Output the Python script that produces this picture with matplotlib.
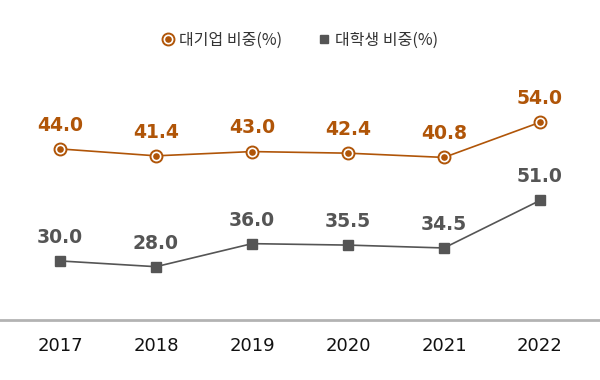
#!/usr/bin/env python3
"""
Share of large-company vs. college-graduate line chart
"""

import matplotlib
matplotlib.use('Agg')
import matplotlib.pyplot as plt
from matplotlib.lines import Line2D
from matplotlib.legend_handler import HandlerTuple

years = ['2017', '2018', '2019', '2020', '2021', '2022']
big_corp = [44.0, 41.4, 43.0, 42.4, 40.8, 54.0]
college = [30.0, 28.0, 36.0, 35.5, 34.5, 51.0]
names = ['대기업 비중(%)', '대학생 비중(%)']

ORANGE = '#b05508'
GRAY = '#555555'
KR = ['Noto Sans CJK KR', 'DejaVu Sans']


def main():
    fig = plt.figure(figsize=(6, 3.8), dpi=100)
    ax = fig.add_axes([0, 60 / 380, 1, 240 / 380])
    ax2 = ax.twinx()
    x = list(range(len(years)))

    # orange series
    ax.plot(x, big_corp, color=ORANGE, lw=1.2, zorder=2)
    ax.plot(x, big_corp, 'o', ms=9, color=ORANGE, zorder=3)
    ax.plot(x, big_corp, 'o', ms=6, mfc=ORANGE, mec='white', mew=1.2, zorder=4)
    for xi, v in zip(x, big_corp):
        ax.annotate(f'{v:.1f}', (xi, v), xytext=(0, 17), textcoords='offset points',
                    ha='center', va='center', fontsize=13.5, fontweight='bold',
                    color=ORANGE)

    # gray series
    ax2.plot(x, college, color=GRAY, lw=1.2, zorder=2)
    ax2.plot(x, college, 's', ms=6.5, color=GRAY, zorder=3)
    for xi, v in zip(x, college):
        ax2.annotate(f'{v:.1f}', (xi, v), xytext=(0, 17), textcoords='offset points',
                     ha='center', va='center', fontsize=13.5, fontweight='bold',
                     color=GRAY)

    ax.set_xlim(-0.625, 5.625)
    ax.set_ylim(-20.3, 69.9)
    ax2.set_ylim(9.5, 92.8)

    for a in (ax, ax2):
        for s in a.spines.values():
            s.set_visible(False)
        a.set_yticks([])
    ax.spines['bottom'].set_visible(True)
    ax.spines['bottom'].set_color('#b3b3b3')
    ax.spines['bottom'].set_linewidth(2)
    ax.set_xticks(x)
    ax.set_xticklabels(years, fontsize=13, color='#111111')
    ax.tick_params(axis='x', length=0, pad=12)

    h1 = (Line2D([], [], ls='none', marker='o', ms=9, color=ORANGE),
          Line2D([], [], ls='none', marker='o', ms=6, mfc=ORANGE, mec='white', mew=1.2))
    h2 = Line2D([], [], ls='none', marker='s', ms=6, color=GRAY)
    fig.legend([h1, h2], names, loc='center', bbox_to_anchor=(0.5, 1 - 40 / 380),
               ncol=2, frameon=False, handler_map={tuple: HandlerTuple(ndivide=1)},
               prop={'family': KR, 'size': 11.5}, labelcolor='#333333',
               handlelength=0.8, handletextpad=0.3, columnspacing=2.2)

    fig.savefig('out.png', dpi=100)


if __name__ == '__main__':
    main()
